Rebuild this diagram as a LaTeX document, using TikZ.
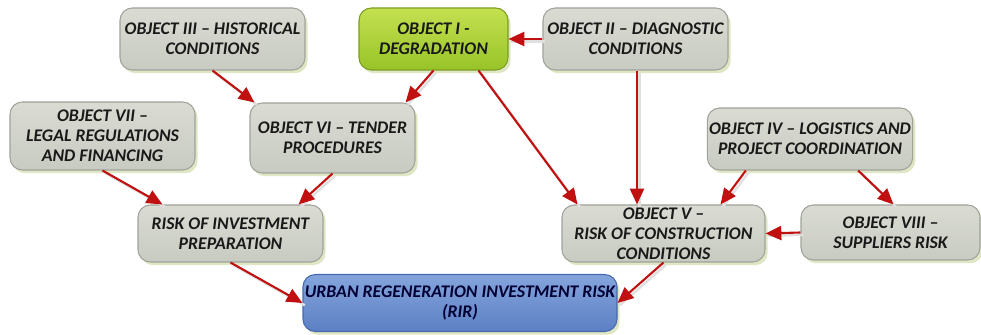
\documentclass[tikz,border=0pt]{standalone}
\usepackage{fontspec}
\setmainfont{Carlito}
\usetikzlibrary{arrows.meta,shadows}

\begin{document}
\begin{tikzpicture}[
        objbox/.style={draw=boxedge, rounded corners=7pt, line width=0.6pt,
            top color=boxtop, bottom color=boxbot, text=black!90,
            font=\fontsize{10.1}{11.3}\selectfont\bfseries\itshape, align=center,
            inner xsep=1pt, inner ysep=0pt,
            drop shadow={shadow xshift=1.5pt, shadow yshift=-1.8pt, fill=boxshade, opacity=0.8}},
        riskarrow/.style={draw=arrowred, line width=1.2pt,
            -{Triangle[length=9pt,width=8pt]},
            preaction={draw=black!12, line width=1.4pt, -, transform canvas={shift={(1.3pt,-1.3pt)}}}}
    ]
        \definecolor{boxtop}{RGB}{218,220,211}
        \definecolor{boxbot}{RGB}{200,203,193}
        \definecolor{boxedge}{RGB}{160,163,155}
        \definecolor{boxshade}{RGB}{214,224,180}
        \definecolor{greentop}{RGB}{196,224,80}
        \definecolor{greenbot}{RGB}{152,196,40}
        \definecolor{bluetop}{RGB}{132,164,220}
        \definecolor{bluebot}{RGB}{92,128,196}
        \definecolor{blueedge}{RGB}{70,105,175}
        \definecolor{arrowred}{RGB}{192,16,16}

        \useasboundingbox (0, 0) rectangle (19.62, 6.7);

        % top row
        \node[objbox, minimum width=3.7cm, minimum height=1.24cm] (obj3) at (4.25, 5.92) {OBJECT III -- HISTORICAL\\CONDITIONS};
        \node[objbox, minimum width=2.98cm, minimum height=1.24cm, top color=greentop, bottom color=greenbot, draw=greenbot!80!black] (obj1) at (8.67, 5.92) {OBJECT I -\\DEGRADATION};
        \node[objbox, minimum width=3.7cm, minimum height=1.24cm] (obj2) at (12.71, 5.92) {OBJECT II -- DIAGNOSTIC\\CONDITIONS};

        % middle row
        \node[objbox, minimum width=3.7cm, minimum height=1.36cm] (obj7) at (2.05, 3.98) {OBJECT VII --\\LEGAL REGULATIONS\\AND FINANCING};
        \node[objbox, minimum width=3.3cm, minimum height=1.4cm] (obj6) at (6.65, 3.94) {OBJECT VI -- TENDER\\PROCEDURES};
        \node[objbox, minimum width=4.08cm, minimum height=1.24cm] (obj4) at (16.2, 3.92) {OBJECT IV -- LOGISTICS AND\\PROJECT COORDINATION};

        % risk row
        \node[objbox, minimum width=3.7cm, minimum height=1.14cm] (prep) at (4.61, 2.03) {RISK OF INVESTMENT\\PREPARATION};
        \node[objbox, minimum width=4.06cm, minimum height=1.14cm] (obj5) at (13.27, 2.03) {OBJECT V --\\RISK OF CONSTRUCTION\\CONDITIONS};
        \node[objbox, minimum width=3.58cm, minimum height=1.1cm] (obj8) at (17.81, 2.05) {OBJECT VIII --\\SUPPLIERS RISK};

        \node[objbox, minimum width=6.28cm, minimum height=1.14cm, top color=bluetop, bottom color=bluebot, draw=blueedge, text=blue!20!black] (rir) at (9.2, 0.64) {URBAN REGENERATION INVESTMENT RISK\\(RIR)};

        % connectors
        \draw[riskarrow] (obj2.west) -- (obj1.east);
        \draw[riskarrow] (obj3.south) -- ([xshift=0.1cm]obj6.north west);
        \draw[riskarrow] (obj1.south) -- ([xshift=-0.2cm]obj6.north east);
        \draw[riskarrow] ([xshift=-0.6cm]obj1.south east) -- ([xshift=0.32cm]obj5.north west);
        \draw[riskarrow] ([xshift=0.03cm]obj2.south) -- ([xshift=0.03cm]obj2.south |- obj5.north);
        \draw[riskarrow] ([xshift=0.78cm]obj4.south west) -- ([xshift=-0.9cm]obj5.north east);
        \draw[riskarrow] ([xshift=-1.1cm]obj4.south east) -- ([xshift=0.06cm]obj8.north);
        \draw[riskarrow] (obj8.west) -- (obj5.east);
        \draw[riskarrow] (obj7.south) -- ([xshift=0.5cm]prep.north west);
        \draw[riskarrow] (obj6.south) -- ([xshift=-0.5cm]prep.north east);
        \draw[riskarrow] (prep.south) -- (rir.west);
        \draw[riskarrow] (obj5.south) -- (rir.east);

\end{tikzpicture}
\end{document}
